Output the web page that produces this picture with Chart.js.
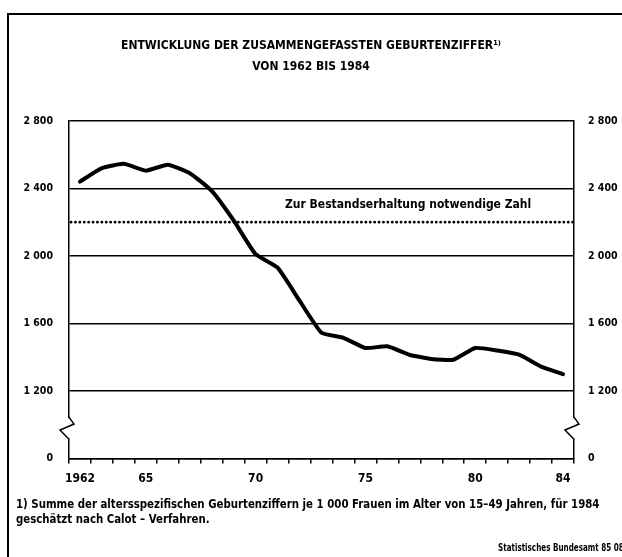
<!DOCTYPE html>
<html>
<head>
<meta charset="utf-8">
<script src="https://cdn.jsdelivr.net/npm/chart.js@4.4.1/dist/chart.umd.min.js"></script>
<style>
  body { margin: 0; background: #fff; overflow: hidden; }
  #wrap { position: relative; width: 622px; height: 557px; overflow: hidden; }
  #frame { position: absolute; left: 7px; top: 13px; width: 700px; height: 700px;
           border-left: 2px solid #000; border-top: 2px solid #000; }
  #chart { position: absolute; left: 0; top: 0; }
  .note { position: absolute; color: #000; font-weight: bold; white-space: nowrap;
          font-family: 'Liberation Sans Narrow', 'DejaVu Sans Condensed', sans-serif;
          transform-origin: 0 0; }
  #footnote { left: 16px; top: 497px; font-size: 12px; line-height: 15px; transform: scaleX(0.945); }
  #source { left: 498px; top: 542px; font-size: 10px; transform: scaleX(0.8); }
</style>
</head>
<body>
<div id="wrap">
  <div id="frame"></div>
  <canvas id="chart" width="622" height="557"></canvas>
  <div id="footnote" class="note">1) Summe der altersspezifischen Geburtenziffern je 1 000 Frauen im Alter von 15&#8211;49 Jahren, f&uuml;r 1984<br>gesch&auml;tzt nach Calot &#8211; Verfahren.</div>
  <div id="source" class="note">Statistisches Bundesamt 85 0802</div>
</div>
<script>
var FONT = "'Liberation Sans Narrow', 'DejaVu Sans Condensed', sans-serif";

// data
var years = ['1962','1963','1964','1965','1966','1967','1968','1969','1970','1971','1972',
  '1973','1974','1975','1976','1977','1978','1979','1980','1981','1982','1983','1984'];
var fertility = [2440, 2520, 2545, 2505, 2540, 2490, 2385, 2210, 2010, 1930, 1735,
  1545, 1515, 1455, 1465, 1415, 1390, 1385, 1455, 1440, 1415, 1345, 1300];
var xTickYears = ['1962', '1965', '1970', '1975', '1980', '1984'];
var xTickLabels = ['1962', '65', '70', '75', '80', '84'];
// axis is broken below 1200: the lowest gridline stands for 0
var yTickValues = [800, 1200, 1600, 2000, 2400, 2800];
var yTickLabels = ['0', '1 200', '1 600', '2 000', '2 400', '2 800'];
var replacementLevel = 2200;
var replacementText = 'Zur Bestandserhaltung notwendige Zahl';
var titleText = 'ENTWICKLUNG DER ZUSAMMENGEFASSTEN GEBURTENZIFFER\u00B9\u207E';
var subtitleText = 'VON 1962 BIS 1984';

function yTickLabel(value) {
  var i = yTickValues.indexOf(value);
  return i < 0 ? '' : yTickLabels[i];
}

function setTicks(scale) {
  scale.ticks = yTickValues.map(function (v) { return { value: v }; });
}

var extras = {
  id: 'extras',
  beforeDatasetsDraw: function (chart) {
    var ctx = chart.ctx, area = chart.chartArea, y = chart.scales.y;
    var yy = y.getPixelForValue(replacementLevel);
    ctx.save();
    ctx.strokeStyle = '#000';
    ctx.lineWidth = 2.8;
    ctx.lineCap = 'round';
    ctx.setLineDash([0.1, 4.3]);
    ctx.beginPath();
    ctx.moveTo(area.left + 2, yy);
    ctx.lineTo(area.right, yy);
    ctx.stroke();
    ctx.setLineDash([]);
    ctx.fillStyle = '#000';
    ctx.font = 'bold 12px ' + FONT;
    ctx.textBaseline = 'middle';
    ctx.fillText(replacementText, 285, yy - 17);
    ctx.restore();
  },
  afterDraw: function (chart) {
    var ctx = chart.ctx, area = chart.chartArea, y = chart.scales.y;
    var y1 = y.getPixelForValue(1040), y2 = y.getPixelForValue(920);
    ctx.save();
    [area.left, area.right].forEach(function (x) {
      ctx.fillStyle = '#fff';
      ctx.fillRect(x - 3, y1, 6, y2 - y1);
      ctx.strokeStyle = '#000';
      ctx.lineWidth = 1.5;
      ctx.beginPath();
      ctx.moveTo(x, y1 - 1);
      ctx.lineTo(x + 5, y1 + 6);
      ctx.lineTo(x - 9, y1 + 12);
      ctx.lineTo(x, y2 + 1);
      ctx.stroke();
    });
    ctx.restore();
  }
};

var tickFont = { family: FONT, size: 10.5, weight: 'bold' };

new Chart(document.getElementById('chart'), {
  type: 'line',
  data: {
    labels: years,
    datasets: [{
      data: fertility,
      borderColor: '#000',
      borderWidth: 4,
      tension: 0.15,
      pointRadius: 0,
      borderCapStyle: 'round',
      borderJoinStyle: 'round'
    }]
  },
  options: {
    responsive: false,
    animation: false,
    layout: { padding: { top: 39, left: 0, right: 0, bottom: 63 } },
    plugins: {
      legend: { display: false },
      tooltip: { enabled: false },
      title: {
        display: true, text: titleText, color: '#000',
        font: { family: FONT, size: 12, weight: 'bold' },
        padding: { top: 0, bottom: 6 }
      },
      subtitle: {
        display: true, text: subtitleText, color: '#000',
        font: { family: FONT, size: 12, weight: 'bold' },
        padding: { top: 0, bottom: 47 }
      }
    },
    scales: {
      x: {
        type: 'category',
        offset: true,
        grid: { offset: true, drawOnChartArea: false, color: '#000', lineWidth: 1.5, tickLength: 5 },
        border: { color: '#000', width: 1.5 },
        ticks: {
          autoSkip: false, maxRotation: 0, padding: 8, color: '#000',
          font: { family: FONT, size: 12, weight: 'bold' },
          callback: function (v, i) {
            var k = xTickYears.indexOf(years[i]);
            return k < 0 ? '' : xTickLabels[k];
          }
        }
      },
      y: {
        position: 'left', min: 800, max: 2800,
        afterBuildTicks: setTicks,
        afterFit: function (s) { s.width = 69; },
        grid: { color: '#000', lineWidth: 1.5, drawTicks: false },
        border: { color: '#000', width: 1.5 },
        ticks: { padding: 16, color: '#000', font: tickFont, callback: yTickLabel }
      },
      y2: {
        position: 'right', min: 800, max: 2800,
        afterBuildTicks: setTicks,
        afterFit: function (s) { s.width = 48; },
        grid: { display: false, drawTicks: false },
        border: { color: '#000', width: 1.5 },
        ticks: { padding: 14, color: '#000', font: tickFont, callback: yTickLabel }
      }
    }
  },
  plugins: [extras]
});
</script>
</body>
</html>
